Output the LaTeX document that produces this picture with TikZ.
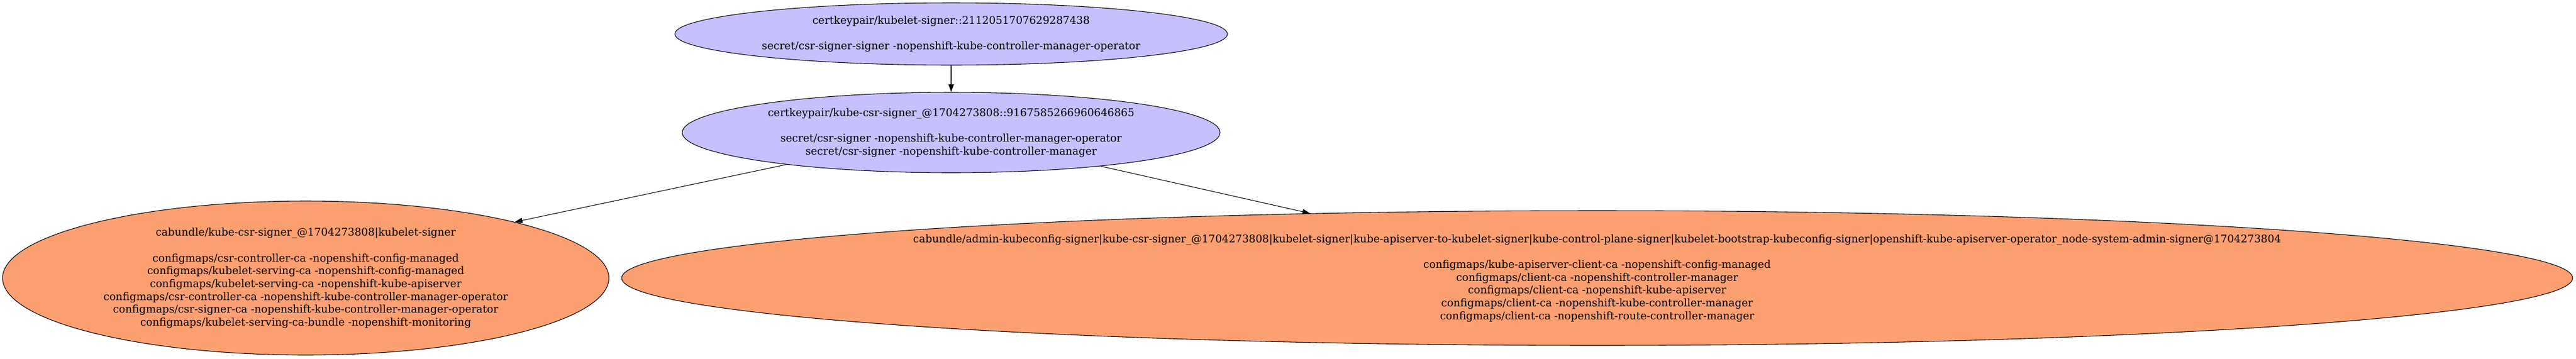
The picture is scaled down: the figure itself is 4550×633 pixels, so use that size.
\documentclass[tikz,border=0pt]{standalone}
\usepackage{fontspec}
\setmainfont{DejaVu Serif}
\usetikzlibrary{shapes.geometric,arrows.meta}
\definecolor{certfill}{RGB}{198,192,254}
\definecolor{bundlefill}{RGB}{252,160,114}

\begin{document}
\begin{tikzpicture}[x=0.75pt,y=-0.75pt,
  cert/.style={ellipse,draw,fill=certfill,inner sep=0pt,line width=0.8pt},
  bundle/.style={ellipse,draw,fill=bundlefill,inner sep=0pt,line width=0.8pt},
  lbl/.style={align=center,font=\fontsize{14pt}{17pt}\selectfont,inner sep=0pt},
  link/.style={-{Triangle[length=10pt,width=7pt]},line width=0.8pt}]
					\useasboundingbox (0,0) rectangle (4550,633);
					% signers
					\node[cert,minimum width=732pt,minimum height=82.5pt] (K) at (1680,60) {};
					\node[lbl] (Kt) at (K) {certkeypair/kubelet-signer::2112051707629287438\\[17pt]
						secret/csr-signer-signer -nopenshift-kube-controller-manager-operator};
					\node[cert,minimum width=712.5pt,minimum height=106.5pt] (C) at (1680,234) {};
					\node[lbl] (Ct) at (C) {certkeypair/kube-csr-signer\_@1704273808::9167585266960646865\\[17pt]
						secret/csr-signer -nopenshift-kube-controller-manager-operator\\
						secret/csr-signer -nopenshift-kube-controller-manager};
					% bundles
					\node[bundle,minimum width=803.25pt,minimum height=204pt] (L) at (540,491) {};
					\node[lbl] (Lt) at (L) {cabundle/kube-csr-signer\_@1704273808|kubelet-signer\\[17pt]
						configmaps/csr-controller-ca -nopenshift-config-managed\\
						configmaps/kubelet-serving-ca -nopenshift-config-managed\\
						configmaps/kubelet-serving-ca -nopenshift-kube-apiserver\\
						configmaps/csr-controller-ca -nopenshift-kube-controller-manager-operator\\
						configmaps/csr-signer-ca -nopenshift-kube-controller-manager-operator\\
						configmaps/kubelet-serving-ca-bundle -nopenshift-monitoring};
					\node[bundle,minimum width=2584.5pt,minimum height=178.5pt] (R) at (2821,491) {};
					\node[lbl] (Rt) at (R) {cabundle/admin-kubeconfig-signer|kube-csr-signer\_@1704273808|kubelet-signer|kube-apiserver-to-kubelet-signer|kube-control-plane-signer|kubelet-bootstrap-kubeconfig-signer|openshift-kube-apiserver-operator\_node-system-admin-signer@1704273804\\[17pt]
						configmaps/kube-apiserver-client-ca -nopenshift-config-managed\\
						configmaps/client-ca -nopenshift-controller-manager\\
						configmaps/client-ca -nopenshift-kube-apiserver\\
						configmaps/client-ca -nopenshift-kube-controller-manager\\
						configmaps/client-ca -nopenshift-route-controller-manager};
					\draw[link] (K) -- (C);
					\draw[link] (C.191) -- (L.15);
					\draw[link] (C) -- (R);
				  \end{tikzpicture}
\end{document}
